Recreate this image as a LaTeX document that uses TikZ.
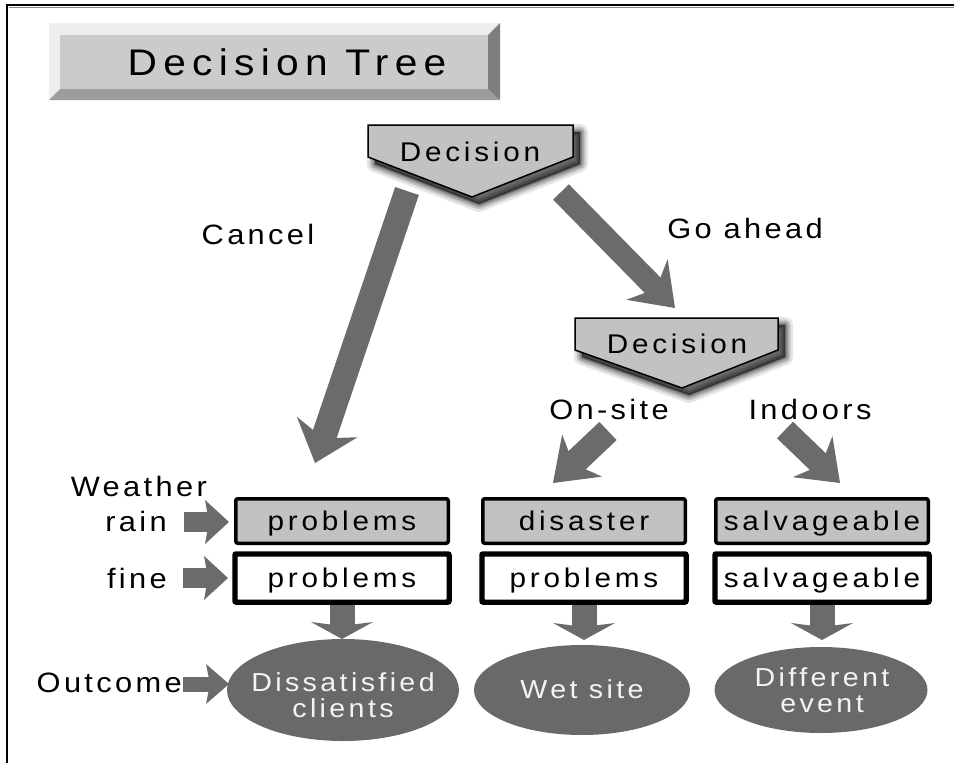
\documentclass[tikz,border=0pt]{standalone}
\usepackage{fontspec}
\setmainfont{Liberation Sans}
\newfontfamily\labelfont[FakeStretch=1.1, LetterSpace=12]{Liberation Sans}
\newfontfamily\cellfont[FakeStretch=1.1, LetterSpace=14]{Liberation Sans}
\newfontfamily\ovalfont[FakeStretch=1.1, LetterSpace=13]{Liberation Sans}
\newfontfamily\headfont[FakeStretch=1.1, LetterSpace=17]{Liberation Sans}
\usetikzlibrary{arrows.meta,shapes.geometric}

\definecolor{arrowgray}{HTML}{6B6B6B}
\definecolor{ovalgray}{HTML}{696969}
\definecolor{panelgray}{HTML}{C2C2C2}
\definecolor{facegray}{HTML}{CBCBCB}
\definecolor{bevellow}{HTML}{9C9C9C}
\definecolor{bevelside}{HTML}{7E7E7E}
\definecolor{bevellight}{HTML}{EEEEEE}
\definecolor{ovaltextcol}{HTML}{F4F4F4}

% soft drop shadow: the outline repeated with widening translucent strokes
\newcommand\softshadow[1]{%
  \foreach \sw/\so in {16/0.10,11/0.14,7/0.18,3/0.28}{%
    \path[fill=black, draw=black, line width=\sw pt, line join=round,
          opacity=\so, shift={(7,7)}] #1;}}

\begin{document}
\begin{tikzpicture}[x=1pt,y=-1pt,
  lbl/.style={font=\labelfont\fontsize{28}{32}\selectfont, inner sep=0pt, anchor=base},
  dectext/.style={font=\cellfont\fontsize{27}{30}\selectfont, inner sep=0pt, anchor=base},
  decshape/.style={fill=panelgray, draw=black, line width=1.5pt, line join=miter},
  cellbox/.style={draw=black, line width=3.5pt, rounded corners=2pt, inner sep=0pt,
    minimum height=44.5pt, text height=21pt, text depth=2pt,
    font=\cellfont\fontsize{27}{30}\selectfont},
  wetbox/.style={cellbox, fill=panelgray},
  drybox/.style={cellbox, fill=white, minimum height=46.5pt},
  ovalnode/.style={ellipse, fill=ovalgray, inner sep=0pt},
  ovaltext/.style={font=\ovalfont\fontsize{26}{30}\selectfont, text=ovaltextcol,
    inner sep=0pt, anchor=base},
  fatarrow/.style n args={4}{draw=arrowgray, line width=#1,
    -{Stealth[length=#2,width=#3,inset=#4,line width=0pt]}}
]
\useasboundingbox (0,0) rectangle (954,763);
\fill[white] (0,0) rectangle (954,763);

% page frame
\draw[line width=2pt] (954,5) -- (7,5) -- (7,763);
\draw[black!45, line width=1.2pt] (9,7.4) -- (954,7.4);

% bevelled title plate
\fill[bevellight] (49,23) -- (500,23) -- (488,35) -- (60,35) -- cycle;
\fill[bevellight] (49,23) -- (60,35) -- (60,89) -- (49,100) -- cycle;
\fill[bevellow] (49,100) -- (60,89) -- (488,89) -- (500,100) -- cycle;
\fill[bevelside] (500,23) -- (500,100) -- (488,89) -- (488,35) -- cycle;
\fill[facegray] (60,35) rectangle (488,89);
\node[font=\headfont\fontsize{37}{40}\selectfont, anchor=base, inner sep=0pt]
  (title) at (287,75) {Decision Tree};

% decision markers
\softshadow{(368,125) -- (573,125) -- (573,157) -- (472,197) -- (368,157) -- cycle}
\draw[decshape] (368,125) -- (573,125) -- (573,157) -- (472,197) -- (368,157) -- cycle;
\node[dectext] (dec1) at (470,161) {Decision};

\softshadow{(575,318) -- (778,318) -- (778,350) -- (682,388) -- (575,350) -- cycle}
\draw[decshape] (575,318) -- (778,318) -- (778,350) -- (682,388) -- (575,350) -- cycle;
\node[dectext] (dec2) at (677,353) {Decision};

% branch labels
\node[lbl] (cancel) at (258,244) {Cancel};
\node[lbl] (goahead) at (745,238) {Go ahead};
\node[lbl] (onsite) at (609,419) {On-site};
\node[lbl] (indoors) at (810,419) {Indoors};
\node[lbl, anchor=base east] (weather) at (207,496) {Weather};
\node[lbl, anchor=base east] (rain) at (167,531) {rain};
\node[lbl, anchor=base east] (fine) at (167,588) {fine};
\node[lbl, anchor=base east] (outcome) at (182,692) {Outcome};

% arrow end points
\coordinate (cancelS) at (407,191);  \coordinate (cancelT) at (315,463);
\coordinate (goS) at (561,192);      \coordinate (goT) at (675,308);
\coordinate (onS) at (608,431);      \coordinate (onT) at (553,483);
\coordinate (inS) at (785,430);      \coordinate (inT) at (840,483);
\coordinate (rainS) at (184,522);    \coordinate (rainT) at (229,522);
\coordinate (fineS) at (183,578);    \coordinate (fineT) at (228,578);
\coordinate (outS) at (183,684);     \coordinate (outT) at (229,684);
\coordinate (down1) at (342,639);
\coordinate (down2) at (584,640);
\coordinate (down3) at (822,640);

% outcome ovals
\node[ovalnode, minimum width=232pt, minimum height=102pt] (oval1) at (343,690) {};
\node[ovalnode, minimum width=216pt, minimum height=90pt] (oval2) at (582,690) {};
\node[ovalnode, minimum width=213pt, minimum height=86pt] (oval3) at (821,690) {};

% branch arrows
\draw[fatarrow={25pt}{38pt}{64pt}{12pt}] (cancelS) -- (cancelT);
\draw[fatarrow={22pt}{40pt}{58pt}{13pt}] (goS) -- (goT);
\draw[fatarrow={25pt}{40pt}{58pt}{12pt}] (onS) -- (onT);
\draw[fatarrow={23pt}{38pt}{57pt}{12pt}] (inS) -- (inT);
\draw[fatarrow={20pt}{24pt}{44pt}{4pt}] (rainS) -- (rainT);
\draw[fatarrow={20pt}{24pt}{44pt}{4pt}] (fineS) -- (fineT);
\draw[fatarrow={15pt}{23pt}{40pt}{4pt}] (outS) -- (outT);

% weather result cells
\node[wetbox, minimum width=212.5pt] (rain1) at (342,521) {problems};
\node[wetbox, minimum width=202.5pt] (rain2) at (584,521) {disaster};
\node[wetbox, minimum width=212.5pt] (rain3) at (822,521) {salvageable};
\node[drybox, minimum width=212.5pt] (fine1) at (342,578) {problems};
\node[drybox, minimum width=202.5pt] (fine2) at (584,578) {problems};
\node[drybox, minimum width=212.5pt] (fine3) at (822,578) {salvageable};

% arrows from cells to outcomes
\draw[fatarrow={25pt}{17pt}{62pt}{4pt}] (fine1.south) -- (down1);
\draw[fatarrow={25pt}{17pt}{62pt}{4pt}] (fine2.south) -- (down2);
\draw[fatarrow={25pt}{17pt}{62pt}{4pt}] (fine3.south) -- (down3);
\draw[line width=3.5pt, rounded corners=2pt] (fine1.south west) rectangle (fine1.north east);
\draw[line width=3.5pt, rounded corners=2pt] (fine2.south west) rectangle (fine2.north east);
\draw[line width=3.5pt, rounded corners=2pt] (fine3.south west) rectangle (fine3.north east);

% outcome texts
\node[ovaltext] (oval1a) at (343,691) {Dissatisfied};
\node[ovaltext] (oval1b) at (343,717) {clients};
\node[ovaltext] (oval2a) at (582,698) {Wet site};
\node[ovaltext] (oval3a) at (822,686) {Different};
\node[ovaltext] (oval3b) at (822,712) {event};
\end{tikzpicture}
\end{document}
